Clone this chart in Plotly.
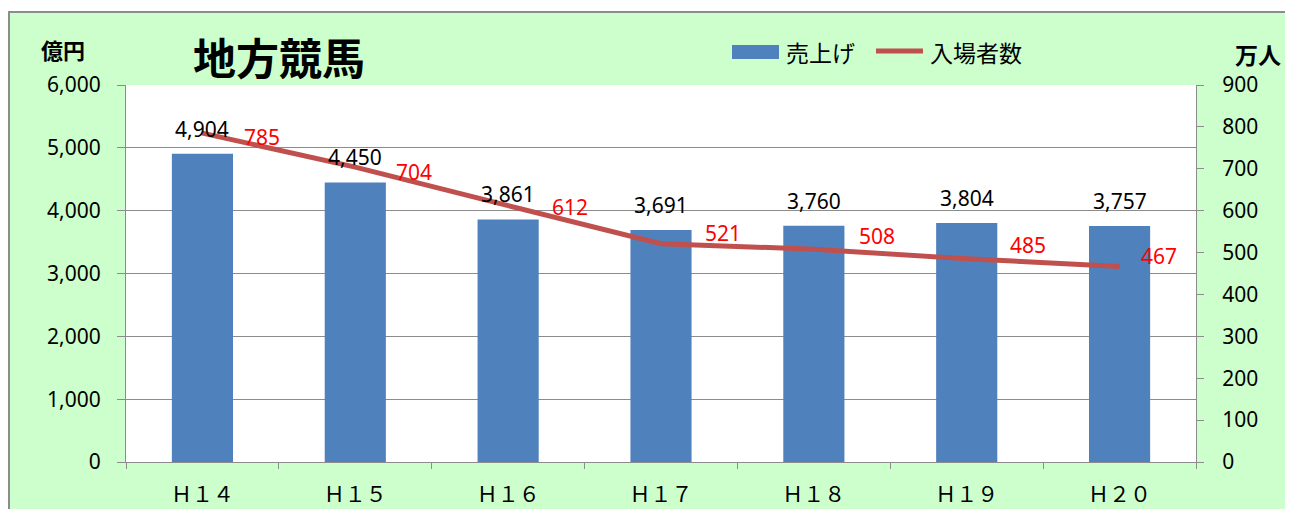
import plotly.graph_objects as go

categories = ["Ｈ１４", "Ｈ１５", "Ｈ１６", "Ｈ１７", "Ｈ１８", "Ｈ１９", "Ｈ２０"]
sales = [4904, 4450, 3861, 3691, 3760, 3804, 3757]          # 億円
attendance = [785, 704, 612, 521, 508, 485, 467]             # 万人
series_names = ["売上げ", "入場者数"]

# label offsets (style only, in pixels)
att_label_xshift = [60, 59, 62, 62, 63, 61, 39]
att_label_yshift = [-4, -5, -1, 11, 13, 14, 10]

BAR_COLOR = "#4F81BD"
LINE_COLOR = "#C0504D"
GRID = "#8C8C8C"

# figure is placed at page offset (8, 8) by the html body margin
OFF = 8
W, H = 1293 - OFF, 509 - OFF
PL, PR, PT, PB = 126, 1196, 85, 462     # plot area in page pixels
L, T = PL - OFF, PT - OFF
R, B = W - (PR - OFF), H - (PB - OFF)
FONT = "Noto Sans CJK JP"
NUM = "Noto Sans"


def px_x(p):
    return (p - PL) / (PR - PL)


def px_y(p):
    return (PB - p) / (PB - PT)


fig = go.Figure()
fig.add_trace(go.Bar(
    x=categories, y=sales, name=series_names[0], width=0.4,
    marker=dict(color=BAR_COLOR, line=dict(width=0)), yaxis="y",
))
fig.add_trace(go.Scatter(
    x=categories, y=attendance, name=series_names[1], mode="lines",
    line=dict(color=LINE_COLOR, width=5), yaxis="y2",
))

annotations = []
for c, v in zip(categories, sales):
    annotations.append(dict(x=c, y=v, xref="x", yref="y", text=f"{v:,}",
                            showarrow=False, yshift=25,
                            font=dict(family=NUM, size=21, color="black")))
for c, v, dx, dy in zip(categories, attendance, att_label_xshift, att_label_yshift):
    annotations.append(dict(x=c, y=v, xref="x", yref="y2", text=f"{v}",
                            showarrow=False, xshift=dx, yshift=dy,
                            font=dict(family=NUM, size=21, color="#FF0000")))

annotations += [
    dict(xref="paper", yref="paper", x=px_x(279), y=px_y(56), text="<b>地方競馬</b>",
         xanchor="center", yanchor="middle", showarrow=False,
         font=dict(family=FONT, size=43, color="black")),
    dict(xref="paper", yref="paper", x=px_x(63), y=px_y(49), text="<b>億円</b>",
         xanchor="center", yanchor="middle", showarrow=False,
         font=dict(family=FONT, size=22, color="black")),
    dict(xref="paper", yref="paper", x=px_x(1258), y=px_y(54), text="<b>万人</b>",
         xanchor="center", yanchor="middle", showarrow=False,
         font=dict(family=FONT, size=23, color="black")),
    # legend texts
    dict(xref="paper", yref="paper", x=px_x(784), y=px_y(52), text=series_names[0],
         xanchor="left", yanchor="middle", showarrow=False,
         font=dict(family=FONT, size=23, color="black")),
    dict(xref="paper", yref="paper", x=px_x(928), y=px_y(52), text=series_names[1],
         xanchor="left", yanchor="middle", showarrow=False,
         font=dict(family=FONT, size=23, color="black")),
]

shapes = [
    # white strip above the chart frame
    dict(type="rect", xref="paper", yref="paper", x0=px_x(0), x1=px_x(W + 20), y0=px_y(11), y1=px_y(-5),
         fillcolor="white", line=dict(width=0), layer="above"),
    # frame border
    dict(type="line", xref="paper", yref="paper", x0=px_x(9), x1=px_x(9), y0=px_y(11), y1=px_y(H + 40),
         line=dict(color=GRID, width=2)),
    dict(type="line", xref="paper", yref="paper", x0=px_x(8), x1=px_x(W + 20), y0=px_y(12), y1=px_y(12),
         line=dict(color=GRID, width=2)),
    # legend keys
    dict(type="rect", xref="paper", yref="paper", x0=px_x(732), x1=px_x(779), y0=px_y(59), y1=px_y(45),
         fillcolor=BAR_COLOR, line=dict(width=0)),
    dict(type="line", xref="paper", yref="paper", x0=px_x(876), x1=px_x(923), y0=px_y(51), y1=px_y(51),
         line=dict(color=LINE_COLOR, width=5)),
]

fig.update_layout(
    width=W, height=H,
    margin=dict(l=L, r=R, t=T, b=B, pad=0, autoexpand=False),
    paper_bgcolor="#CCFFCC", plot_bgcolor="white",
    font=dict(family=FONT, size=16, color="black"),
    showlegend=False,
    xaxis=dict(
        type="category", showline=True, linecolor=GRID, linewidth=1,
        ticks="outside", tickson="boundaries", ticklen=6, tickcolor=GRID,
        showgrid=False, tickfont=dict(family=FONT, size=21), ticklabelstandoff=14,
    ),
    yaxis=dict(
        range=[0, 6000], dtick=1000, tickformat=",d", showgrid=True, gridcolor=GRID,
        gridwidth=1, showline=True, linecolor=GRID, linewidth=1, ticks="outside",
        ticklen=8, tickcolor=GRID, tickfont=dict(family=NUM, size=21),
        ticklabelstandoff=12, zeroline=False,
    ),
    yaxis2=dict(
        range=[0, 900], dtick=100, overlaying="y", side="right", showgrid=False,
        showline=True, linecolor=GRID, linewidth=1, ticks="outside", ticklen=7,
        tickcolor=GRID, tickfont=dict(family=NUM, size=21), ticklabelstandoff=14,
        zeroline=False,
    ),
    annotations=annotations,
    shapes=shapes,
)

fig.write_html("out.html")
